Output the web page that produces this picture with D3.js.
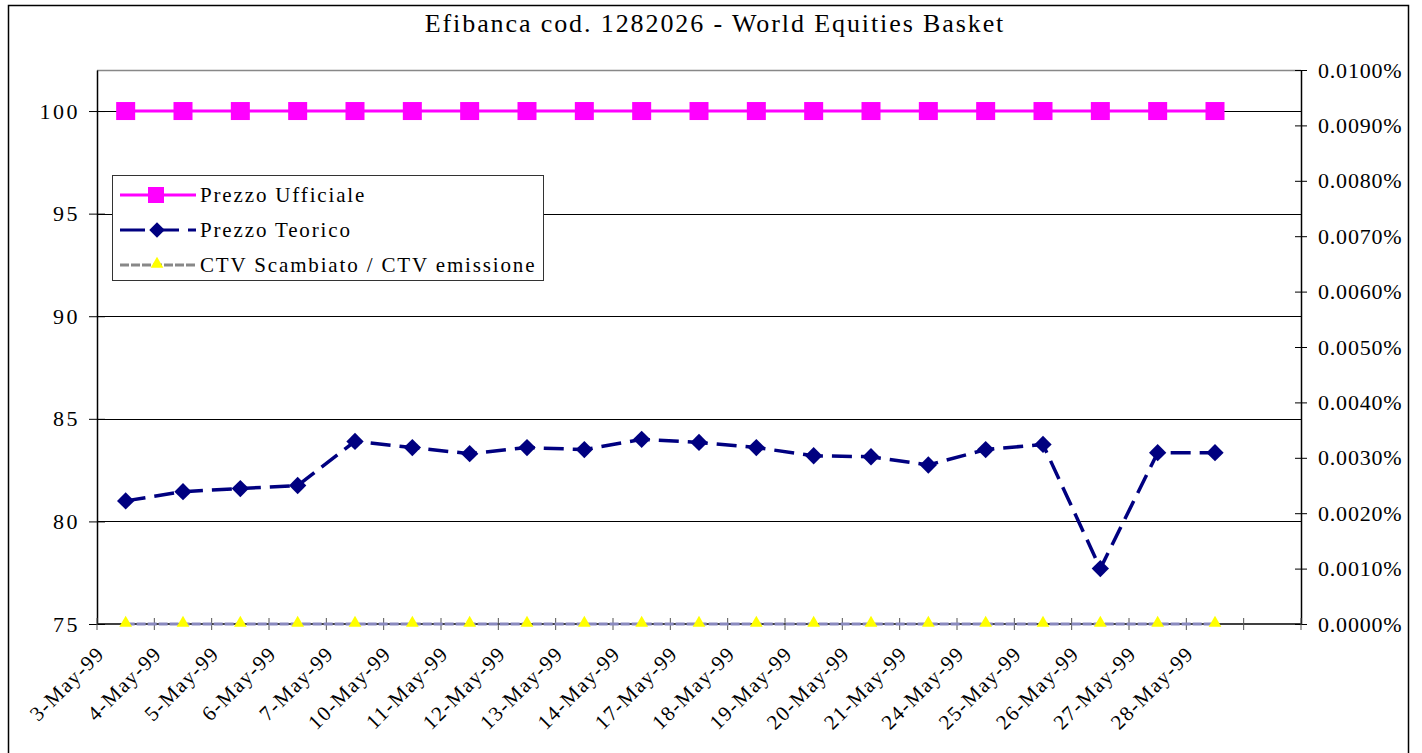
<!DOCTYPE html>
<html>
<head>
<meta charset="utf-8">
<script src="https://cdn.jsdelivr.net/npm/d3@7"></script>
<style>
  body { margin: 0; background: #fff; }
  text { font-family: "Liberation Serif", "DejaVu Serif", serif; fill: #000; }
</style>
</head>
<body>
<svg id="chart" width="1422" height="753"></svg>
<script>
// data
const dates = ["3-May-99","4-May-99","5-May-99","6-May-99","7-May-99","10-May-99","11-May-99",
  "12-May-99","13-May-99","14-May-99","17-May-99","18-May-99","19-May-99","20-May-99",
  "21-May-99","24-May-99","25-May-99","26-May-99","27-May-99","28-May-99"];
const prezzoUfficiale = [100,100,100,100,100,100,100,100,100,100,100,100,100,100,100,100,100,100,100,100];
const prezzoTeorico = [81.0,81.45,81.6,81.75,83.9,83.6,83.3,83.6,83.5,84.0,83.85,83.6,83.2,83.15,82.75,83.5,83.75,77.7,83.35,83.35];
const ctvRatio = [0,0,0,0,0,0,0,0,0,0,0,0,0,0,0,0,0,0,0,0];
const leftTicks = [75,80,85,90,95,100];
const rightTicks = [0,0.00001,0.00002,0.00003,0.00004,0.00005,0.00006,0.00007,0.00008,0.00009,0.0001];

const svg = d3.select('#chart');
const margin = {top: 70, right: 121, bottom: 129, left: 97};
const width = 1422 - margin.left - margin.right;
const height = 753 - margin.top - margin.bottom;

// outer frame
svg.append('rect').attr('x', 8.5).attr('y', 5.5).attr('width', 1400).attr('height', 760)
  .attr('fill', '#fff').attr('stroke', '#000').attr('stroke-width', 1.5);

svg.append('text').attr('x', 715).attr('y', 32).attr('text-anchor', 'middle')
  .attr('font-size', 26).attr('letter-spacing', 1.9)
  .text('Efibanca cod. 1282026 - World Equities Basket');

const g = svg.append('g').attr('transform', 'translate(' + margin.left + ',' + margin.top + ')');

// one extra empty slot at the end, like the original
const slots = dates.concat(['']);
const x = d3.scaleBand().domain(d3.range(slots.length)).range([0, width]);
const cx = i => x(i) + x.bandwidth() / 2;
const y = d3.scaleLinear().domain([75, 102]).range([height, 0]);
const y2 = d3.scaleLinear().domain([0, 0.0001]).range([height, 0]);

// plot top border
g.append('line').attr('x1', 0).attr('x2', width).attr('y1', 0.5).attr('y2', 0.5)
  .attr('stroke', '#888').attr('stroke-width', 1.5);

// gridlines
g.selectAll('.grid').data(leftTicks.filter(d => d > 75)).enter().append('line')
  .attr('class', 'grid')
  .attr('x1', 0).attr('x2', width)
  .attr('y1', d => Math.round(y(d)) + 0.5).attr('y2', d => Math.round(y(d)) + 0.5)
  .attr('stroke', '#000').attr('stroke-width', 1);

// left axis
const yAxis = g.append('g')
  .call(d3.axisLeft(y).tickValues(leftTicks).tickSizeInner(8).tickSizeOuter(0).tickPadding(12));
yAxis.select('.domain').attr('stroke', '#000').attr('stroke-width', 1.5);
yAxis.selectAll('.tick line').attr('x2', 8).attr('x1', -8).attr('stroke', '#000');
yAxis.selectAll('.tick text').attr('font-size', 22).attr('letter-spacing', 2.5).attr('x', -17)
  .attr('font-family', '"Liberation Serif", serif');

// right axis
const yAxis2 = g.append('g').attr('transform', 'translate(' + width + ',0)')
  .call(d3.axisRight(y2).tickValues(rightTicks).tickSizeOuter(0).tickPadding(12)
    .tickFormat(d => (d * 100).toFixed(4) + '%'));
yAxis2.select('.domain').attr('stroke', '#000').attr('stroke-width', 1.5);
yAxis2.selectAll('.tick line').attr('x1', -6).attr('x2', 6).attr('stroke', '#000');
yAxis2.selectAll('.tick text').attr('font-size', 22).attr('letter-spacing', 0.8).attr('x', 17)
  .attr('font-family', '"Liberation Serif", serif');

// category axis
const xAxis = g.append('g').attr('transform', 'translate(0,' + height + ')');
xAxis.append('line').attr('x1', 0).attr('x2', width).attr('stroke', '#000').attr('stroke-width', 1.5);
xAxis.selectAll('.xtick').data(d3.range(slots.length + 1)).enter().append('line')
  .attr('class', 'xtick')
  .attr('x1', i => i < slots.length ? x(i) : width).attr('x2', i => i < slots.length ? x(i) : width)
  .attr('y1', -6).attr('y2', 6).attr('stroke', '#555');
xAxis.selectAll('.xlabel').data(dates).enter().append('text')
  .attr('class', 'xlabel')
  .attr('text-anchor', 'end').attr('font-size', 21).attr('letter-spacing', 1.4)
  .attr('transform', (d, i) => 'translate(' + (cx(i) - 20) + ',31) rotate(-45)')
  .text(d => d);

// CTV series (right axis)
const lineCtv = d3.line().x((d, i) => cx(i)).y(d => y2(d));
g.append('path').datum(ctvRatio).attr('d', lineCtv)
  .attr('fill', 'none').attr('stroke', '#8a8ac0').attr('stroke-width', 3).attr('stroke-dasharray', '9,2');

// Prezzo Ufficiale
const lineL = d3.line().x((d, i) => cx(i)).y(d => y(d));
g.append('path').datum(prezzoUfficiale).attr('d', lineL)
  .attr('fill', 'none').attr('stroke', '#ff00ff').attr('stroke-width', 3);
g.selectAll('.sq').data(prezzoUfficiale).enter().append('rect')
  .attr('class', 'sq')
  .attr('x', (d, i) => cx(i) - 9.5).attr('y', d => y(d) - 9)
  .attr('width', 19).attr('height', 18).attr('fill', '#ff00ff');

// Prezzo Teorico
g.append('path').datum(prezzoTeorico).attr('d', lineL)
  .attr('fill', 'none').attr('stroke', '#000080').attr('stroke-width', 3.5).attr('stroke-dasharray', '20,9');
const diamond = d3.symbol().type(d3.symbolSquare).size(150);
g.selectAll('.dm').data(prezzoTeorico).enter().append('path')
  .attr('class', 'dm')
  .attr('d', diamond)
  .attr('transform', (d, i) => 'translate(' + cx(i) + ',' + y(d) + ') rotate(45)')
  .attr('fill', '#000080');

// CTV markers
const tri = d3.symbol().type(d3.symbolTriangle).size(70);
g.selectAll('.tr').data(ctvRatio).enter().append('path')
  .attr('class', 'tr')
  .attr('d', tri)
  .attr('transform', (d, i) => 'translate(' + cx(i) + ',' + (y2(d) - 1) + ')')
  .attr('fill', '#ffff00');

// legend
const legend = svg.append('g').attr('transform', 'translate(112,175)');
legend.append('rect').attr('x', 0.5).attr('y', 0.5).attr('width', 431).attr('height', 105)
  .attr('fill', '#fff').attr('stroke', '#333').attr('stroke-width', 1);
const items = [
  {name: 'Prezzo Ufficiale', color: '#ff00ff', dash: null, mark: 'sq'},
  {name: 'Prezzo Teorico', color: '#000080', dash: '25,9', mark: 'dm'},
  {name: 'CTV Scambiato / CTV emissione', color: '#888', dash: '9,2', mark: 'tr'}
];
const row = legend.selectAll('.item').data(items).enter().append('g')
  .attr('class', 'item')
  .attr('transform', (d, i) => 'translate(0,' + (20 + i * 35) + ')');
row.append('line').attr('x1', 8).attr('x2', 84).attr('y1', 0).attr('y2', 0)
  .attr('stroke', d => d.color).attr('stroke-width', 3)
  .attr('stroke-dasharray', d => d.dash);
row.each(function (d) {
  const r = d3.select(this);
  if (d.mark === 'sq') {
    r.append('rect').attr('x', 36).attr('y', -8).attr('width', 16).attr('height', 16).attr('fill', d.color);
  } else if (d.mark === 'dm') {
    r.append('path').attr('d', d3.symbol().type(d3.symbolSquare).size(120))
      .attr('transform', 'translate(45,0) rotate(45)').attr('fill', d.color);
  } else {
    r.append('path').attr('d', tri).attr('transform', 'translate(45,-1)').attr('fill', '#ffff00');
  }
});
row.append('text').attr('x', 88).attr('y', 0).attr('dy', '0.35em')
  .attr('font-size', 21).attr('letter-spacing', 1.85)
  .text(d => d.name);
</script>
</body>
</html>
